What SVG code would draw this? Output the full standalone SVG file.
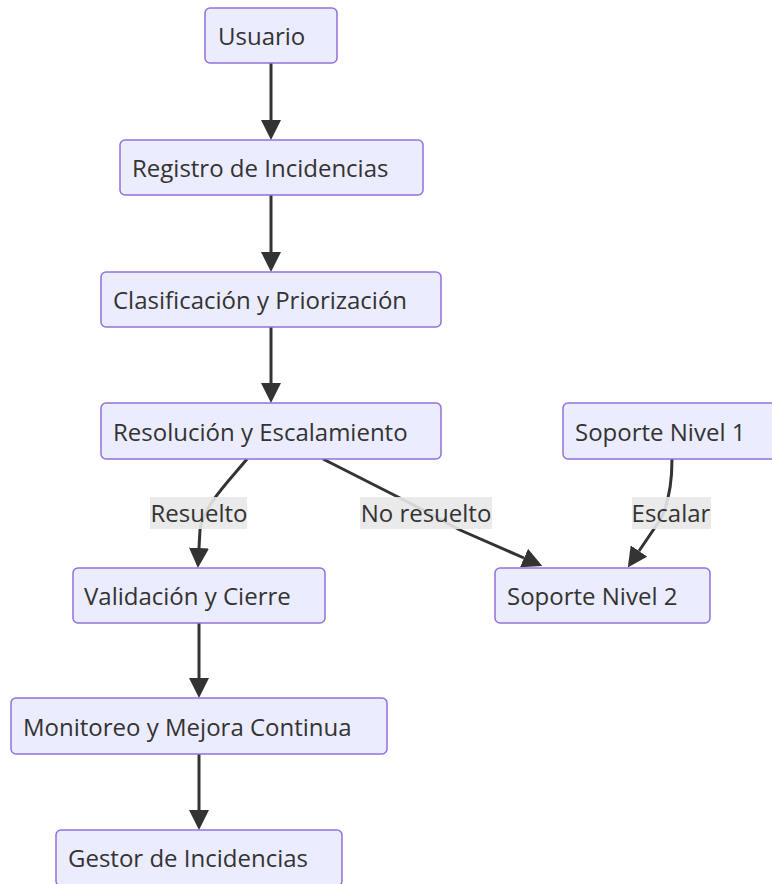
<svg xmlns="http://www.w3.org/2000/svg" width="772" height="884" viewBox="0 0 772 884">
  <style>
    .node rect { fill: #ECECFF; stroke: #9370DB; stroke-width: 1.5; }
    .node text { font-family: "Open Sans", "Noto Sans", sans-serif; font-size: 24px; fill: #333333; }
    .edge { fill: none; stroke: #333333; stroke-width: 3; }
    .elabel rect { fill: #E8E8E8; opacity: 0.9; }
    .elabel text { font-family: "Open Sans", "Noto Sans", sans-serif; font-size: 24px; fill: #333333; text-anchor: middle; }
  </style>
  <defs>
    <marker id="arrow" viewBox="0 0 20 20" refX="0" refY="10" markerWidth="20" markerHeight="20" markerUnits="userSpaceOnUse" orient="auto">
      <path d="M0,0 L20,10 L0,20 z" fill="#333333"/>
    </marker>
  </defs>
  <rect width="772" height="884" fill="#FFFFFF"/>

  <!-- connectors -->
  <g id="edges">
    <path class="edge" d="M271,63 L271,120" marker-end="url(#arrow)"/>
    <path class="edge" d="M271,195 L271,252" marker-end="url(#arrow)"/>
    <path class="edge" d="M271,327 L271,383" marker-end="url(#arrow)"/>
    <path class="edge" d="M247,459 C228,482 204,505 200,530 L199,548" marker-end="url(#arrow)"/>
    <path class="edge" d="M323,459 L398,497 Q429,513 460,530 L524,558" marker-end="url(#arrow)"/>
    <path class="edge" d="M672,459 C672,485 668,505 660,520 L639,551" marker-end="url(#arrow)"/>
    <path class="edge" d="M199,623 L199,678" marker-end="url(#arrow)"/>
    <path class="edge" d="M199,754 L199,810" marker-end="url(#arrow)"/>
  </g>

  <!-- connector labels -->
  <g id="edge-labels">
    <g class="elabel"><rect x="150" y="497" width="97" height="32"/><text x="199" y="522">Resuelto</text></g>
    <g class="elabel"><rect x="360" y="497" width="132" height="32"/><text x="426" y="522">No resuelto</text></g>
    <g class="elabel"><rect x="632" y="497" width="79" height="32"/><text x="671" y="522">Escalar</text></g>
  </g>

  <g id="usuario" class="node"><rect x="205" y="8" width="132" height="55" rx="5"/><text x="218" y="45">Usuario</text></g>
  <g id="registro" class="node"><rect x="120" y="140" width="303" height="55" rx="5"/><text x="132" y="177">Registro de Incidencias</text></g>
  <g id="clasificacion" class="node"><rect x="101" y="272" width="340" height="55" rx="5"/><text x="113" y="309">Clasificación y Priorización</text></g>
  <g id="resolucion" class="node"><rect x="101" y="403" width="340" height="56" rx="5"/><text x="113" y="441">Resolución y Escalamiento</text></g>
  <g id="soporte1" class="node"><rect x="563" y="403" width="230" height="56" rx="5"/><text x="575" y="441">Soporte Nivel 1</text></g>
  <g id="validacion" class="node"><rect x="73" y="568" width="252" height="55" rx="5"/><text x="84" y="605">Validación y Cierre</text></g>
  <g id="soporte2" class="node"><rect x="495" y="568" width="215" height="55" rx="5"/><text x="507" y="605">Soporte Nivel 2</text></g>
  <g id="monitoreo" class="node"><rect x="11" y="698" width="376" height="56" rx="5"/><text x="23" y="736">Monitoreo y Mejora Continua</text></g>
  <g id="gestor" class="node"><rect x="56" y="830" width="286" height="56" rx="5"/><text x="68" y="867">Gestor de Incidencias</text></g>
</svg>
